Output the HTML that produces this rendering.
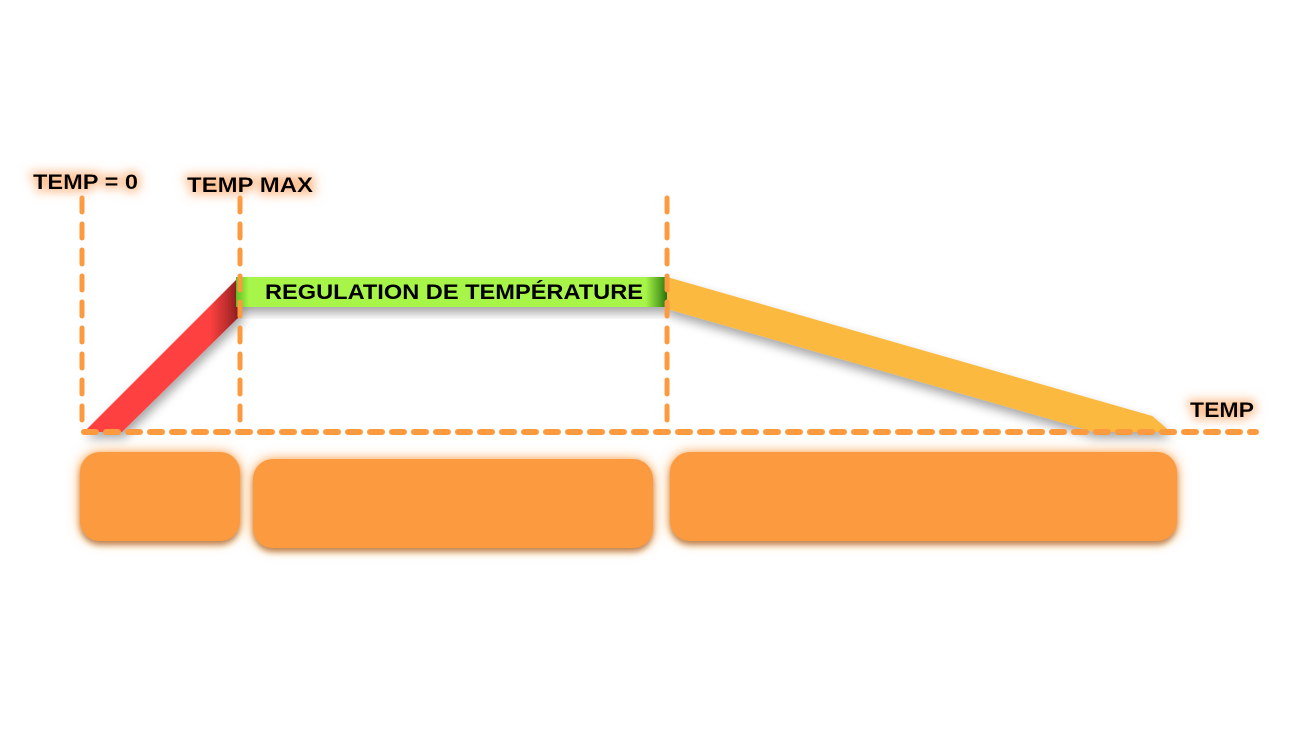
<!DOCTYPE html>
<html><head><meta charset="utf-8">
<style>
html,body{margin:0;padding:0;background:#fff;width:1292px;height:735px;overflow:hidden}
svg{display:block}
.lbl{font-family:"Liberation Sans",sans-serif;font-weight:bold;fill:#000}
</style></head>
<body>
<svg id="chart" width="1292" height="735" viewBox="0 0 1292 735" xmlns="http://www.w3.org/2000/svg">
<defs>
<filter id="sh" x="-20%" y="-20%" width="140%" height="160%"><feDropShadow dx="2" dy="6" stdDeviation="5" flood-color="#000" flood-opacity="0.35"/></filter>
<filter id="glow" x="-30%" y="-60%" width="160%" height="220%"><feMorphology in="SourceAlpha" operator="dilate" radius="3" result="d"/><feGaussianBlur in="d" stdDeviation="5" result="b"/><feFlood flood-color="#fdb27a" flood-opacity="0.8"/><feComposite in2="b" operator="in" result="g"/><feMerge><feMergeNode in="g"/><feMergeNode in="SourceGraphic"/></feMerge></filter>
<filter id="boxf" x="-10%" y="-30%" width="120%" height="170%"><feGaussianBlur in="SourceAlpha" stdDeviation="6" result="b"/><feFlood flood-color="#fc9a3f" flood-opacity="0.9"/><feComposite in2="b" operator="in" result="g"/><feDropShadow in="SourceGraphic" dx="0" dy="4" stdDeviation="3" flood-color="#8a4a10" flood-opacity="0.6" result="s"/><feMerge><feMergeNode in="g"/><feMergeNode in="s"/></feMerge></filter>
<linearGradient id="gg" x1="0" x2="1" y1="0" y2="0"><stop offset="0" stop-color="#5fbf1f"/><stop offset="0.03" stop-color="#a8f548"/><stop offset="0.95" stop-color="#a8f548"/><stop offset="1" stop-color="#2f7d10"/></linearGradient>
<linearGradient id="rg" x1="0" x2="1" y1="0" y2="0"><stop offset="0" stop-color="#ff4040"/><stop offset="0.8" stop-color="#ff4040"/><stop offset="1" stop-color="#8a1e1e"/></linearGradient>
</defs>
<g id="boxes"></g>
<g id="bands"></g>
<g id="grid"></g>
<text class="lbl" x="33" y="189" font-size="21" textLength="105" lengthAdjust="spacingAndGlyphs" filter="url(#glow)">TEMP = 0</text>
<text class="lbl" x="187" y="192" font-size="21" textLength="126" lengthAdjust="spacingAndGlyphs" filter="url(#glow)">TEMP MAX</text>
<text class="lbl" x="1190" y="417" font-size="21" textLength="64" lengthAdjust="spacingAndGlyphs" filter="url(#glow)">TEMP</text>
<text class="lbl" x="265" y="299" font-size="21" textLength="378" lengthAdjust="spacingAndGlyphs">REGULATION DE TEMPÉRATURE</text>
</svg>
<script>
// phase boundaries (x domain units) and temperature levels (0..1)
const phaseNames = ["heating", "regulation", "cooling"];
const phaseStart = [0, 1, 3.72];
const phaseEnd = [1, 3.72, 6.9];
const levelStart = [0, 1, 1];
const levelEnd = [1, 1, 0];
const markers = [0, 1, 3.72];

const NS = "http://www.w3.org/2000/svg";
const X0 = 83, XU = 157, Y0 = 432, YU = 155;
const xs = v => X0 + v * XU;
const ys = v => Y0 - v * YU;
function mk(tag, attrs, parent) {
  const e = document.createElementNS(NS, tag);
  for (const k in attrs) e.setAttribute(k, attrs[k]);
  parent.appendChild(e);
  return e;
}
const bands = document.getElementById("bands");
const grid = document.getElementById("grid");
const boxes = document.getElementById("boxes");
const colors = ["url(#rg)", "url(#gg)", "#fcb940"];
const T = 30;
phaseNames.forEach((n, i) => {
  const x1 = xs(phaseStart[i]), x2 = xs(phaseEnd[i]);
  const y1 = ys(levelStart[i]), y2 = ys(levelEnd[i]);
  let pts;
  if (i === 0) pts = [[x1 + 1, y1], [x1 + 39, y1], [x2 + 1, y2 + 38], [x2 + 1, y2 + 4], [x2 - 4, y2 + 3]];
  else if (i === 1) pts = [[x1 - 4, y1], [x2, y2], [x2, y2 + T], [x1 - 4, y2 + T]];
  else pts = [[x1, y1], [x2 - 14, y2 - 16], [x2, y2 - 4], [x2 + 2, y2], [x2 - 72, y2], [x1, y1 + T + 2]];
  const p = mk("polygon", {points: pts.map(p => p.join(",")).join(" "), fill: colors[i], filter: "url(#sh)", "stroke-linejoin": "round"}, bands);
  
  
});
const boxX = [80, 253, 670], boxW = [160, 400, 507], boxY = [452, 459, 452];
boxX.forEach((bx, i) => {
  const r = mk("rect", {x: bx, y: boxY[i], width: boxW[i], height: 89, rx: 20, fill: "#fc9a3f", filter: "url(#boxf)"}, boxes);
  
  
});
markers.forEach((m, i) => {
  const l = mk("line", {x1: xs(m) - (i === 0 ? 1 : 0), x2: xs(m) - (i === 0 ? 1 : 0), y1: 198, y2: 432, stroke: "#fc9a3f", "stroke-width": 5, "stroke-dasharray": "14 12", "stroke-linecap": "round"}, grid);
  
  
});
const ax = mk("line", {x1: 84, x2: 1256, y1: 432, y2: 432, stroke: "#fc9a3f", "stroke-width": 6, "stroke-dasharray": "12 10", "stroke-linecap": "round"}, grid);


</script>
</body></html>
